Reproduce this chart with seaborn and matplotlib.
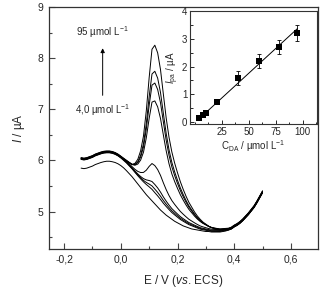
import numpy as np
import pandas as pd
import matplotlib
matplotlib.use("Agg")
import matplotlib.pyplot as plt
import seaborn as sns
from matplotlib.ticker import MultipleLocator, FuncFormatter

# ---------------- data ----------------
E = np.round(np.arange(-0.14, 0.5001, 0.01), 2)

# background of the DA-containing voltammograms (no oxidation peak)
bg_da = [6.02, 6.01, 6.02, 6.04, 6.06, 6.09, 6.11, 6.13, 6.145, 6.15,
         6.15, 6.14, 6.12, 6.09, 6.05, 6.00, 5.95, 5.89, 5.83, 5.76,
         5.69, 5.62, 5.55, 5.48, 5.41, 5.34, 5.27, 5.21, 5.15, 5.09,
         5.04, 4.99, 4.94, 4.90, 4.86, 4.82, 4.79, 4.76, 4.73, 4.71,
         4.69, 4.67, 4.65, 4.64, 4.63, 4.62, 4.61, 4.61, 4.61, 4.61,
         4.62, 4.63, 4.64, 4.66, 4.70, 4.73, 4.77, 4.82, 4.88, 4.94,
         5.01, 5.08, 5.17, 5.27, 5.37]

# blank voltammogram
blank = [5.85, 5.84, 5.85, 5.87, 5.89, 5.92, 5.94, 5.96, 5.975, 5.985,
         5.985, 5.975, 5.96, 5.935, 5.90, 5.855, 5.80, 5.74, 5.68, 5.61,
         5.54, 5.47, 5.40, 5.33, 5.27, 5.21, 5.15, 5.09, 5.03, 4.98,
         4.93, 4.89, 4.85, 4.81, 4.78, 4.75, 4.72, 4.70, 4.68, 4.66,
         4.65, 4.64, 4.63, 4.62, 4.61, 4.61, 4.60, 4.60, 4.60, 4.60,
         4.61, 4.62, 4.64, 4.66, 4.70, 4.73, 4.77, 4.82, 4.88, 4.94,
         5.01, 5.08, 5.17, 5.27, 5.37]

# normalised DA oxidation peak profile
peak_shape = [0, 0, 0, 0, 0, 0, 0, 0, 0, 0,
              0, 0, 0, 0, 0.0, 0.005, 0.01, 0.02, 0.03, 0.06,
              0.11, 0.19, 0.31, 0.50, 0.74, 0.95, 1.00, 0.97, 0.88, 0.74,
              0.60, 0.49, 0.41, 0.35, 0.30, 0.255, 0.215, 0.18, 0.15, 0.125,
              0.10, 0.08, 0.065, 0.05, 0.04, 0.03, 0.024, 0.018, 0.013, 0.009,
              0.006, 0.003, 0, 0, 0, 0, 0, 0, 0, 0,
              0, 0, 0, 0, 0]

conc_labels = ["4", "7", "10", "20", "40", "59", "78", "95"]
peak_heights = [0.10, 0.16, 0.24, 0.60, 1.86, 2.22, 2.46, 2.98]
curve_offsets = [0.0, 0.01, 0.02, 0.03, 0.035, 0.025, 0.015, 0.005]

# calibration (inset)
c_da = [4, 7, 10, 20, 40, 59, 78, 95]
ipa = [0.15, 0.25, 0.33, 0.73, 1.58, 2.20, 2.72, 3.22]
ipa_err = [0.04, 0.04, 0.05, 0.08, 0.25, 0.25, 0.25, 0.28]
fit_slope = 0.0357
fit_intercept = -0.02

# ---------------- build frames ----------------
rows = []
for e, v in zip(E, blank):
    rows.append(("blank", e, v))
bg = np.array(bg_da)
shape = np.array(peak_shape)
for lab, h, off in zip(conc_labels, peak_heights, curve_offsets):
    vals = bg + h * shape + off
    for e, v in zip(E, vals):
        rows.append((lab, e, v))
df = pd.DataFrame(rows, columns=["curve", "E", "I"])

cal = pd.DataFrame({"C": c_da, "I": ipa, "err": ipa_err})
fit_x = np.array([c_da[0], c_da[-1]])
fit = pd.DataFrame({"C": fit_x, "I": fit_intercept + fit_slope * fit_x})

# ---------------- plot ----------------
sns.set_theme(style="ticks")
plt.rcParams["font.family"] = ["Liberation Sans", "DejaVu Sans"]
plt.rcParams["mathtext.fontset"] = "custom"
plt.rcParams["mathtext.rm"] = "Liberation Sans"
plt.rcParams["mathtext.it"] = "Liberation Sans:italic"

fig = plt.figure(figsize=(3.25, 2.97), dpi=100)
ax = fig.add_axes([0.151, 0.162, 0.827, 0.814])

sns.lineplot(data=df, x="E", y="I", units="curve", estimator=None,
             color="black", lw=0.7, ax=ax, legend=False)

ax.set_xlim(-0.253, 0.695)
ax.set_ylim(4.27, 9.0)
ax.xaxis.set_major_locator(MultipleLocator(0.2))
ax.xaxis.set_minor_locator(MultipleLocator(0.1))
ax.yaxis.set_major_locator(MultipleLocator(1))
ax.yaxis.set_minor_locator(MultipleLocator(0.5))
ax.xaxis.set_major_formatter(FuncFormatter(lambda v, p: f"{v:.1f}".replace(".", ",").replace("-0,0", "0,0")))
ax.yaxis.set_major_formatter(FuncFormatter(lambda v, p: f"{v:.0f}"))
ax.tick_params(which="both", direction="in", labelsize=7.5, color="#444", width=0.8)
ax.tick_params(which="major", length=4, pad=4)
ax.tick_params(which="minor", length=2.5)
for s in ax.spines.values():
    s.set_color("#333")
    s.set_linewidth(0.9)
ax.set_xlabel("E / V ($\\it{vs}$. ECS)", fontsize=8.5, labelpad=6)
ax.set_ylabel("$\\it{I}$ / µA", fontsize=8.5, labelpad=8)

# annotation
ax.annotate("", xy=(-0.064, 8.25), xytext=(-0.064, 7.22),
            arrowprops=dict(arrowstyle="-|>", color="black", lw=0.7,
                            mutation_scale=6))
ax.text(-0.064, 8.52, "95 µmol L$^{-1}$", ha="center", va="center", fontsize=7)
ax.text(-0.064, 6.98, "4,0 µmol L$^{-1}$", ha="center", va="center", fontsize=7)

# inset
ins = fig.add_axes([0.585, 0.5825, 0.39, 0.38])
ins.errorbar(cal["C"], cal["I"], yerr=cal["err"], fmt="none",
             ecolor="black", elinewidth=0.6, capsize=1.5, capthick=0.6)
sns.lineplot(data=fit, x="C", y="I", color="black", lw=0.7, ax=ins)
sns.scatterplot(data=cal, x="C", y="I", marker="s", color="black",
                s=14, edgecolor="black", linewidth=0, ax=ins, zorder=3)
ins.set_xlim(-4.5, 113)
ins.set_ylim(-0.07, 4.0)
ins.set_xticks([25, 50, 75, 100])
ins.xaxis.set_minor_locator(MultipleLocator(12.5))
ins.yaxis.set_major_locator(MultipleLocator(1))
ins.yaxis.set_minor_locator(MultipleLocator(0.5))
ins.tick_params(which="both", direction="in", labelsize=7, width=0.7)
ins.tick_params(which="major", length=3, pad=2)
ins.tick_params(which="minor", length=1.8)
for s in ins.spines.values():
    s.set_color("#333")
    s.set_linewidth(0.8)
ins.set_xlabel("C$_{\\rm DA}$ / µmol L$^{-1}$", fontsize=7, labelpad=1)
ins.set_ylabel("$\\it{I}_{\\rm pa}$ / µA", fontsize=7, labelpad=1)

fig.savefig("out.png", dpi=100)
